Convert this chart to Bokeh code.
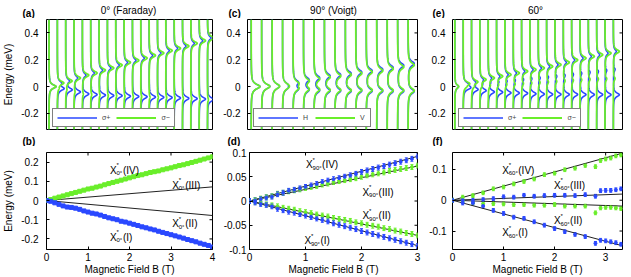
import numpy as np
from bokeh.plotting import figure
from bokeh.layouts import column, row
from bokeh.models import (Range1d, Label, Legend, LegendItem, Whisker,
                          TeeHead, ColumnDataSource, CustomJSTickFormatter, FixedTicker)
from bokeh.embed import file_html
from bokeh.resources import INLINE

BLUE = "#2a48ff"
GREEN = "#6aee2a"
FONT = "Liberation Sans"

# ---------------- top panels: spectra (peak positions / amplitudes per trace) -------------
# (a) 0 deg Faraday, 20 traces
a_E_hi = [0.0, 0.027, 0.042, 0.064, 0.085, 0.101, 0.122, 0.138, 0.160, 0.180,
          0.195, 0.212, 0.232, 0.250, 0.268, 0.285, 0.302, 0.322, 0.342, 0.362]
a_E_lo = [0.0, -0.015, -0.024, -0.040, -0.055, -0.060, -0.064, -0.067, -0.068, -0.072,
          -0.074, -0.076, -0.078, -0.080, -0.082, -0.085, -0.088, -0.090, -0.093, -0.096]
a_amp_plus_hi = [0.42] + [0.42] * 19
a_amp_plus_lo = [0.42] + [0.76] * 19
a_amp_minus_hi = [0.42] + [0.76] * 19
a_amp_minus_lo = [0.42] + [0.10] * 19

# (c) 90 deg Voigt, 16 traces
c_E_hi_H = [0.0, 0.004, 0.008, 0.014, 0.032, 0.052, 0.066, 0.080, 0.088, 0.098,
            0.108, 0.118, 0.128, 0.142, 0.158, 0.172]
c_E_lo_H = [0.0, -0.002, -0.004, -0.010, -0.020, -0.026, -0.030, -0.032, -0.032, -0.034,
            -0.032, -0.033, -0.034, -0.035, -0.034, -0.036]
c_E_hi_V = [0.0, 0.004, 0.007, 0.010, 0.024, 0.042, 0.056, 0.070, 0.078, 0.088,
            0.098, 0.108, 0.118, 0.132, 0.146, 0.160]
c_E_lo_V = [0.0, -0.002, -0.003, -0.006, -0.014, -0.019, -0.022, -0.025, -0.025, -0.027,
            -0.025, -0.026, -0.027, -0.028, -0.027, -0.030]
c_amp = [0.42, 0.40, 0.38, 0.37, 0.46, 0.50, 0.52, 0.53, 0.54, 0.55,
         0.56, 0.56, 0.57, 0.57, 0.58, 0.58]

# (e) 60 deg, 20 traces
e_E_IV = [0.0, 0.022, 0.035, 0.052, 0.064, 0.077, 0.089, 0.101, 0.114, 0.126,
          0.138, 0.150, 0.163, 0.180, 0.198, 0.212, 0.225, 0.237, 0.249, 0.262]
e_E_I = [0.0, -0.010, -0.022, -0.030, -0.040, -0.042, -0.047, -0.048, -0.050, -0.054,
         -0.056, -0.058, -0.058, -0.059, -0.059, -0.060, -0.060, -0.060, -0.061, -0.061]
e_E_III = [0.0, 0.005, 0.012, 0.020, 0.028, 0.034, 0.040, 0.046, 0.052, 0.058,
           0.064, 0.070, 0.076, 0.082, 0.090, 0.098, 0.106, 0.112, 0.120, 0.128]
e_E_II = [0.0, -0.002, 0.0, 0.004, 0.008, 0.012, 0.015, 0.018, 0.022, 0.026,
          0.030, 0.034, 0.038, 0.042, 0.046, 0.050, 0.054, 0.056, 0.058, 0.060]
e_amp_main = [0.45] + [0.72] * 19
e_amp_weak = [0.0] + [0.2] * 19
e_amp_plus_iv = [0.0] + [0.36] * 19

# ---------------- bottom panels: fitted peak energies ----------------
b_B = [round(0.1 * k, 1) for k in range(41)]
b_I = [0.0, -0.004, -0.012, -0.020, -0.028, -0.034, -0.036, -0.040, -0.046, -0.054,
       -0.060, -0.066, -0.070, -0.076, -0.083, -0.090, -0.095, -0.100, -0.108, -0.112,
       -0.118, -0.124, -0.130, -0.137, -0.142, -0.148, -0.153, -0.160, -0.166, -0.172,
       -0.178, -0.184, -0.190, -0.196, -0.203, -0.209, -0.215, -0.222, -0.228, -0.234, -0.242]
b_IV = [0.0, 0.005, 0.012, 0.018, 0.024, 0.030, 0.036, 0.042, 0.048, 0.054,
        0.060, 0.064, 0.070, 0.075, 0.082, 0.088, 0.094, 0.100, 0.106, 0.112,
        0.118, 0.124, 0.130, 0.134, 0.140, 0.146, 0.150, 0.154, 0.160, 0.165,
        0.170, 0.176, 0.182, 0.186, 0.192, 0.198, 0.204, 0.210, 0.216, 0.222, 0.228]
b_err = 0.006
b_fit_end = [0.232, 0.071, -0.078, -0.245]   # IV, III, II, I at B = 4 T

d_B = [round(0.1 * k, 1) for k in range(31)]
d_IV = [0.000, 0.001, 0.004, 0.007, 0.009, 0.014, 0.017, 0.021, 0.023, 0.026,
        0.029, 0.032, 0.035, 0.039, 0.042, 0.045, 0.047, 0.050, 0.053, 0.056,
        0.060, 0.063, 0.066, 0.069, 0.072, 0.075, 0.078, 0.081, 0.084, 0.087, 0.092]
d_III = [0.000, 0.002, 0.005, 0.008, 0.010, 0.015, 0.017, 0.020, 0.022, 0.024,
         0.027, 0.029, 0.031, 0.034, 0.036, 0.039, 0.041, 0.043, 0.045, 0.047,
         0.050, 0.053, 0.055, 0.057, 0.059, 0.062, 0.064, 0.066, 0.068, 0.070, 0.073]
d_II = [0.000, -0.002, -0.004, -0.007, -0.009, -0.011, -0.014, -0.016, -0.018, -0.021,
        -0.023, -0.025, -0.028, -0.030, -0.032, -0.035, -0.037, -0.039, -0.041, -0.044,
        -0.046, -0.049, -0.051, -0.053, -0.056, -0.058, -0.061, -0.063, -0.066, -0.068, -0.071]
d_I = [0.000, -0.003, -0.006, -0.008, -0.011, -0.016, -0.019, -0.022, -0.024, -0.027,
       -0.030, -0.033, -0.036, -0.039, -0.042, -0.046, -0.049, -0.052, -0.055, -0.058,
       -0.062, -0.065, -0.068, -0.071, -0.074, -0.077, -0.080, -0.083, -0.086, -0.089, -0.093]
d_err = 0.005
d_fit_end = [0.092, 0.072, -0.071, -0.092]   # at B = 3 T

f_B = [0.0, 0.2, 0.4, 0.6, 0.8, 1.0, 1.2, 1.4, 1.6, 1.8, 2.0, 2.2, 2.4, 2.6,
       2.8, 2.9, 3.0, 3.1, 3.2, 3.3]
f_IV = [0.0, 0.010, 0.015, 0.024, 0.037, 0.043, 0.053, 0.061, 0.069, 0.083,
        0.088, 0.099, 0.104, 0.113, 0.109, 0.129, 0.134, 0.137, 0.144, 0.147]
f_III = [0.0, 0.000, 0.000, 0.002, 0.005, 0.011, 0.010, 0.016, 0.013, 0.015,
         0.016, 0.016, 0.015, 0.018, 0.013, 0.031, 0.032, 0.032, 0.034, 0.037]
f_II = [0.0, -0.003, -0.009, -0.011, -0.011, -0.012, -0.014, -0.014, -0.016, -0.016,
        -0.014, -0.019, -0.019, -0.019, -0.041, -0.025, -0.023, -0.023, -0.025, -0.027]
f_I = [0.0, -0.009, -0.009, -0.019, -0.033, -0.043, -0.055, -0.059, -0.070, -0.081,
       -0.092, -0.102, -0.111, -0.118, -0.140, -0.130, -0.132, -0.135, -0.138, -0.143]
f_err = 0.006
f_fit_end = [0.153, 0.020, -0.019, -0.148]   # at B = 3.33 T

# ---------------- helpers ----------------
E = np.linspace(-0.32, 0.5, 700)
TICKFMT = CustomJSTickFormatter(code="""
    if (Math.abs(tick) < 1e-9) { return '0'; }
    return String(parseFloat(tick.toFixed(3)));
""")


def lor(E0, amp, g):
    return amp / (1.0 + ((E - E0) / g) ** 2)


def style_axis(ax, standoff=4):
    ax.major_tick_in = 3
    ax.major_tick_out = 0
    ax.minor_tick_in = 0
    ax.minor_tick_out = 0
    ax.axis_line_color = None
    ax.major_tick_line_color = "black"
    ax.major_label_text_font = FONT
    ax.major_label_text_color = "black"
    ax.major_label_text_font_size = "10px"
    ax.major_label_standoff = standoff
    ax.axis_label_text_font = FONT
    ax.axis_label_text_font_style = "normal"
    ax.axis_label_text_font_size = "10px"
    ax.axis_label_text_color = "black"
    ax.formatter = TICKFMT


def base_fig(width, height, lb, rb, tb, bb, xr, yr, show_x):
    p = figure(width=width, height=height, x_range=Range1d(*xr), y_range=Range1d(*yr),
               output_backend="svg", toolbar_location=None,
               x_axis_location="below" if show_x else None,
               min_border_left=lb, min_border_right=rb,
               min_border_top=tb, min_border_bottom=bb)
    p.xgrid.grid_line_color = None
    p.ygrid.grid_line_color = None
    p.outline_line_color = "black"
    p.outline_line_alpha = 1
    p.outline_line_width = 1
    p.background_fill_color = "white"
    p.border_fill_color = "white"
    return p


def side_ticks(p, yticks, xticks=None):
    """Inward tick marks on the right (and top) frame edges, as in the original."""
    xe = p.x_range.end
    p.scatter(x=[xe] * len(yticks), y=yticks, marker="dash", size=6,
              line_color="black", line_width=1)
    if xticks is not None:
        ye = p.y_range.end
        p.scatter(x=xticks, y=[ye] * len(xticks), marker="dash", angle=np.pi / 2,
                  size=6, line_color="black", line_width=1)


def strip(height, texts):
    """A text-only strip; its data coordinates are pixels of the strip."""
    s = figure(width=631, height=height, x_range=Range1d(0, 631), y_range=Range1d(0, height),
               output_backend="svg", toolbar_location=None,
               x_axis_location=None, y_axis_location=None,
               min_border_left=0, min_border_right=0, min_border_top=0, min_border_bottom=0)
    s.xgrid.grid_line_color = None
    s.ygrid.grid_line_color = None
    s.outline_line_color = None
    s.background_fill_color = "white"
    s.border_fill_color = "white"
    for (txt, x, y, align, bold) in texts:
        s.add_layout(Label(x=x, y=y, text=txt, text_font=FONT, text_font_size="10px",
                           text_font_style="bold" if bold else "normal",
                           text_align=align, text_baseline="alphabetic",
                           text_color="black"))
    return s


def top_panel(width, lb, rb, xr, traces_blue, traces_green, leg_labels, ylabel=None):
    p = base_fig(width, 114, lb, rb, 1, 3, xr, (-0.32, 0.5), False)
    yt = [-0.2, 0, 0.2, 0.4]
    p.yaxis.ticker = FixedTicker(ticks=yt)
    style_axis(p.yaxis[0], 8 if ylabel else 7)
    if ylabel:
        p.yaxis.axis_label = ylabel
        p.yaxis.axis_label_standoff = 4
    ys = [E] * len(traces_blue)
    rb_ = p.multi_line(xs=traces_blue, ys=ys, line_color=BLUE, line_width=1.6)
    rg_ = p.multi_line(xs=traces_green, ys=ys, line_color=GREEN, line_width=1.8)
    side_ticks(p, yt)
    leg = Legend(items=[LegendItem(label=leg_labels[0], renderers=[rb_]),
                        LegendItem(label=leg_labels[1], renderers=[rg_])],
                 orientation="horizontal", location=(6, 2),
                 glyph_width=40, glyph_height=9, label_width=6, label_height=9,
                 label_standoff=5, spacing=6, padding=4, margin=0,
                 label_text_font=FONT, label_text_font_size="7px",
                 border_line_color="black", border_line_width=1,
                 background_fill_alpha=1)
    p.add_layout(leg)
    return p


def x_label(p, x, y, sub, roman, subw):
    kw = dict(text_font=FONT, text_baseline="alphabetic", text_color="black")
    p.add_layout(Label(x=x, y=y, text="X", text_font_size="10px", **kw))
    p.add_layout(Label(x=x, y=y, x_offset=6.5, y_offset=5, text="*", text_font_size="6px", **kw))
    p.add_layout(Label(x=x, y=y, x_offset=6.5, y_offset=-3, text=sub, text_font_size="6px", **kw))
    p.add_layout(Label(x=x, y=y, x_offset=7 + subw, text="(" + roman + ")",
                       text_font_size="10px", **kw))


def bottom_panel(width, lb, rb, xr, yr, xt, ytk, ystand, ylabel=None):
    p = base_fig(width, 131, lb, rb, 6, 27, xr, yr, True)
    p.xaxis.ticker = FixedTicker(ticks=xt)
    p.yaxis.ticker = FixedTicker(ticks=ytk)
    style_axis(p.xaxis[0], 3)
    style_axis(p.yaxis[0], ystand)
    p.xaxis.axis_label = "Magnetic Field B (T)"
    p.xaxis.axis_label_standoff = 0
    if ylabel:
        p.yaxis.axis_label = ylabel
        p.yaxis.axis_label_standoff = 4
    side_ticks(p, ytk, xt)
    return p


def points(p, B, vals, err, color, marker, size):
    src = ColumnDataSource(dict(x=B, y=vals,
                                lo=[v - err for v in vals], hi=[v + err for v in vals]))
    p.add_layout(Whisker(source=src, base="x", lower="lo", upper="hi",
                         line_color=color, line_width=1,
                         lower_head=TeeHead(size=3, line_color=color, line_width=1),
                         upper_head=TeeHead(size=3, line_color=color, line_width=1)))
    p.scatter(x="x", y="y", source=src, marker=marker, size=size,
              fill_color=color, line_color=color)


def fits(p, xmax, ends):
    for e in ends:
        p.line(x=[0, xmax], y=[0, e], line_color="#222222", line_width=1)


# ---------------- build traces ----------------
a_blue, a_green = [], []
for i in range(len(a_E_hi)):
    g = 0.017
    a_blue.append(i + lor(a_E_hi[i], a_amp_plus_hi[i], g) + lor(a_E_lo[i], a_amp_plus_lo[i], g))
    a_green.append(i + lor(a_E_hi[i], a_amp_minus_hi[i], g) + lor(a_E_lo[i], a_amp_minus_lo[i], g))

c_blue, c_green = [], []
for i in range(len(c_E_hi_H)):
    g = 0.022
    c_blue.append(i * 1.0 + lor(c_E_hi_H[i], c_amp[i], g) + lor(c_E_lo_H[i], c_amp[i], g))
    c_green.append(i * 1.0 + lor(c_E_hi_V[i], c_amp[i], g) + lor(c_E_lo_V[i], c_amp[i], g))

e_blue, e_green = [], []
for i in range(len(e_E_IV)):
    g = 0.017
    e_blue.append(i + lor(e_E_I[i], e_amp_main[i], g) + lor(e_E_III[i], e_amp_weak[i], g)
                  + lor(e_E_IV[i], e_amp_plus_iv[i], g))
    e_green.append(i + lor(e_E_IV[i], e_amp_main[i], g) + lor(e_E_II[i], e_amp_weak[i], g))

header = strip(18, [("(a)", 22, 5, "left", True),
                    ("0° (Faraday)", 128, 8, "center", False),
                    ("(c)", 228, 5, "left", True),
                    ("90° (Voigt)", 333, 8, "center", False),
                    ("(e)", 432, 5, "left", True),
                    ("60°", 535, 8, "center", False)])

pa = top_panel(220, 44, 8, (-0.3, 19.6), a_blue, a_green, ["σ+", "σ−"], "Energy (meV)")
pc = top_panel(205, 27, 8, (-0.35, 15.9), c_blue, c_green, ["H", "V"])
pe = top_panel(206, 27, 9, (-0.28, 20.1), e_blue, e_green, ["σ+", "σ−"])

middle = strip(14, [("(b)", 22, 5, "left", True),
                    ("(d)", 227, 5, "left", True),
                    ("(f)", 432, 5, "left", True)])

pb = bottom_panel(220, 44, 8, (0, 4), (-0.255, 0.25), [0, 1, 2, 3, 4],
                  [-0.2, -0.1, 0, 0.1, 0.2], 8, "Energy (meV)")
fits(pb, 4, b_fit_end)
points(pb, b_B, b_IV, b_err, GREEN, "square", 4)
points(pb, b_B, b_I, b_err, BLUE, "square", 4)
x_label(pb, 1.53, 0.157, "0°", "IV", 6)
x_label(pb, 3.03, 0.079, "0°", "III", 6)
x_label(pb, 3.03, -0.122, "0°", "II", 6)
x_label(pb, 1.53, -0.19, "0°", "I", 6)

pd = bottom_panel(205, 27, 8, (0, 3), (-0.1, 0.1), [0, 1, 2, 3],
                  [-0.1, -0.05, 0, 0.05, 0.1], 3)
fits(pd, 3, d_fit_end)
points(pd, d_B, d_III, d_err, GREEN, "circle", 3)
points(pd, d_B, d_II, d_err, GREEN, "circle", 3)
points(pd, d_B, d_IV, d_err, BLUE, "circle", 3)
points(pd, d_B, d_I, d_err, BLUE, "circle", 3)
x_label(pd, 1.01, 0.075, "90°", "IV", 9)
x_label(pd, 2.02, 0.018, "90°", "III", 9)
x_label(pd, 2.02, -0.030, "90°", "II", 9)
x_label(pd, 0.98, -0.082, "90°", "I", 9)

pf = bottom_panel(206, 27, 9, (0, 3.33), (-0.16, 0.155), [0, 1, 2, 3],
                  [-0.1, 0, 0.1], 6)
fits(pf, 3.33, f_fit_end)
points(pf, f_B, f_IV, f_err, GREEN, "circle", 3)
points(pf, f_B, f_II, f_err, GREEN, "circle", 3)
points(pf, f_B, f_III, f_err, BLUE, "circle", 3)
points(pf, f_B, f_I, f_err, BLUE, "circle", 3)
x_label(pf, 0.975, 0.097, "60°", "IV", 9)
x_label(pf, 1.99, 0.048, "60°", "III", 9)
x_label(pf, 1.99, -0.067, "60°", "II", 9)
x_label(pf, 0.975, -0.106, "60°", "I", 9)

layout = column(header,
                row(pa, pc, pe, spacing=0),
                middle,
                row(pb, pd, pf, spacing=0), spacing=0)
open("out.html", "w").write(file_html(layout, INLINE))
